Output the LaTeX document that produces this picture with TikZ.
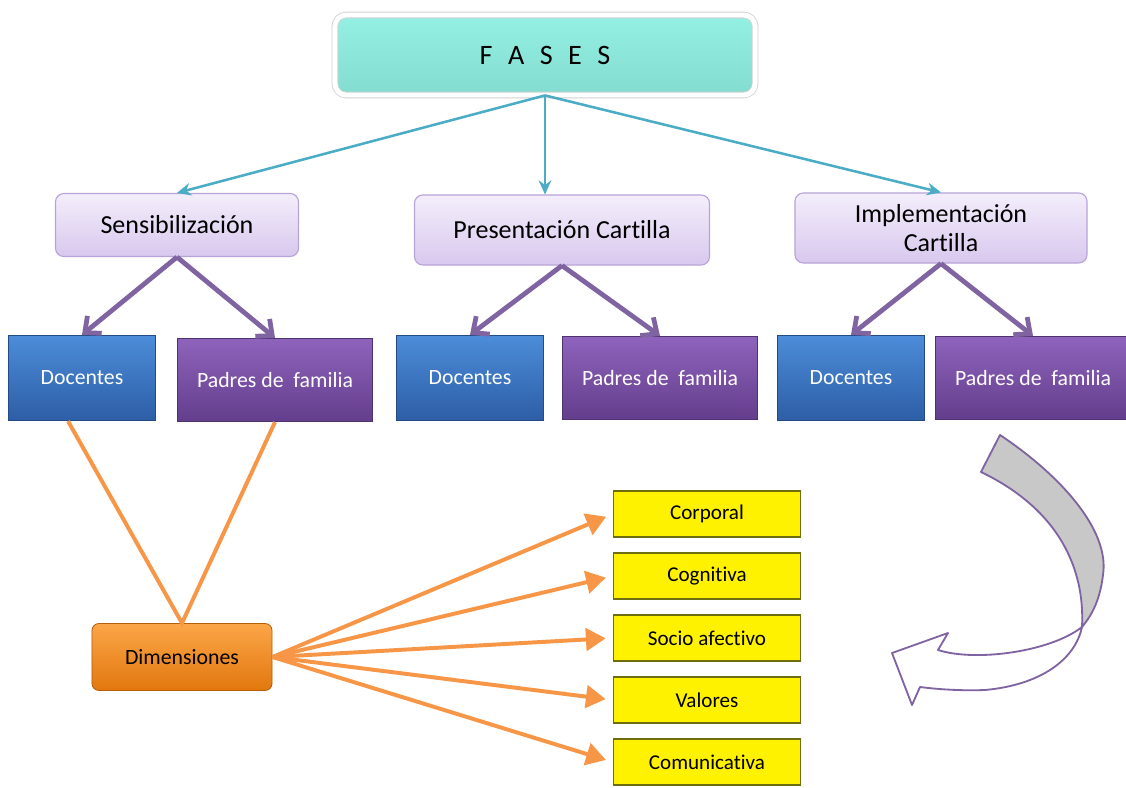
\documentclass[tikz,border=0pt]{standalone}
\usepackage{fontspec}
\setmainfont{Carlito}[Ligatures=NoCommon,RawFeature=-liga]
\usetikzlibrary{arrows.meta}

\definecolor{turquesa}{HTML}{95F0E4}
\definecolor{turquesaosc}{HTML}{82DCD0}
\definecolor{flechaazul}{HTML}{4BACC6}
\definecolor{lilaclaro}{HTML}{F4EEFB}
\definecolor{lilaosc}{HTML}{D8C8EE}
\definecolor{lilaborde}{HTML}{B8A3D8}
\definecolor{morado}{HTML}{8064A2}
\definecolor{azulclaro}{HTML}{4C8CD9}
\definecolor{azulosc}{HTML}{2D5EA6}
\definecolor{moradoclaro}{HTML}{8E63BC}
\definecolor{moradoosc}{HTML}{633E8C}
\definecolor{naranja}{HTML}{F79646}
\definecolor{naranjaclaro}{HTML}{FBA648}
\definecolor{naranjaosc}{HTML}{E2770E}
\definecolor{amarilloborde}{HTML}{6E6E10}
\definecolor{gris}{HTML}{C8C8C8}

\begin{document}
\begin{tikzpicture}[x=0.025cm,y=-0.025cm,
    fase/.style={rectangle,rounded corners=6pt,align=center,draw=lilaborde,line width=0.8pt,
        top color=lilaclaro,bottom color=lilaosc,font=\fontsize{18.5}{21}\selectfont},
    docente/.style={rectangle,draw=azulosc!80!black,line width=0.8pt,top color=azulclaro,bottom color=azulosc,
        text=white,minimum width=3.675cm,minimum height=2.125cm,font=\fontsize{15.5}{18}\selectfont},
    padre/.style={rectangle,draw=moradoosc!80!black,line width=0.8pt,top color=moradoclaro,bottom color=moradoosc,
        text=white,minimum width=4.875cm,minimum height=2.075cm,font=\fontsize{15.5}{18}\selectfont},
    dimension/.style={rectangle,fill=yellow,draw=amarilloborde,line width=1.2pt,
        minimum width=4.675cm,minimum height=1.15cm,font=\fontsize{15}{18}\selectfont},
    azul/.style={-{Stealth[length=10pt,width=9pt,open]},draw=flechaazul,line width=1.8pt},
    lila/.style={-{Straight Barb[length=9pt,width=16pt]},draw=morado,line width=3.4pt},
    naranjo/.style={draw=naranja,line width=2.8pt},
    punta/.style={naranjo,-{Triangle[length=14pt,width=16pt]},shorten >=5pt}]
    \useasboundingbox[fill=white] (0,0) rectangle (1126,788);
    % nodi
    \node[rectangle,rounded corners=8pt,draw=black!18,double=white,double distance=3.5pt,line width=0.6pt,
        top color=turquesa,bottom color=turquesaosc,minimum width=10.5cm,minimum height=2cm,
        font=\fontsize{20}{24}\selectfont] (fases) at (545,55) {F\hspace{0.55em}A\hspace{0.55em}S\hspace{0.55em}E\hspace{0.55em}S};
    \node[fase,minimum width=6.075cm,minimum height=1.575cm] (sens) at (177,225) {Sensibilización};
    \node[fase,minimum width=7.375cm,minimum height=1.75cm] (pres) at (562,230) {Presentación Cartilla};
    \node[fase,minimum width=7.3cm,minimum height=1.75cm] (impl) at (941,228) {Implementación\\Cartilla};
    \node[docente] (doc1) at (82,378)  {Docentes};
    \node[padre]   (pad1) at (275,380) {Padres de\ \ familia};
    \node[docente] (doc2) at (470,378) {Docentes};
    \node[padre]   (pad2) at (660,378) {Padres de\ \ familia};
    \node[docente] (doc3) at (851,378) {Docentes};
    \node[padre]   (pad3) at (1033,378) {Padres de\ \ familia};
    \node[rectangle,rounded corners=5pt,draw=naranjaosc!80!black,line width=0.6pt,top color=naranjaclaro,
        bottom color=naranjaosc,minimum width=4.5cm,minimum height=1.675cm,
        font=\fontsize{15.5}{18}\selectfont] (dim) at (182,657) {Dimensiones};
    \node[dimension] (corp) at (707,514) {Corporal};
    \node[dimension] (cogn) at (707,576) {Cognitiva};
    \node[dimension] (soci) at (707,638) {Socio afectivo};
    \node[dimension] (valo) at (707,700) {Valores};
    \node[dimension] (comu) at (707,762) {Comunicativa};
    % archi
    \draw[azul] (fases.south) -- (sens.north);
    \draw[azul] (fases.south) -- (fases.south |- pres.north);
    \draw[azul] (fases.south) -- (impl.north);
    \foreach \f/\d/\p in {sens/doc1/pad1,pres/doc2/pad2,impl/doc3/pad3}{
        \draw[lila] (\f.south) -- (\d.north);
        \draw[lila] (\f.south) -- (\p.north);
    }
    \draw[naranjo] ([xshift=-0.35cm]doc1.south) -- (dim.north) -- (pad1.south);
    \foreach \y in {corp,cogn,soci,valo,comu}
        \draw[punta] (dim.east) -- (\y.west);
    % flecha curva
    \draw[morado,line width=1.3pt,fill=gris,line join=round]
        (1000,435) .. controls (1060,475) and (1110,530) .. (1103,575)
        .. controls (1100,600) and (1092,615) .. (1082,627)
        .. controls (1085,570) and (1060,510) .. (981,472) -- cycle;
    \draw[morado,line width=1.3pt,fill=white,line join=round]
        (1082,627) .. controls (1075,660) and (1040,685) .. (985,690)
        .. controls (960,691) and (935,689) .. (920,687)
        -- (912,705) -- (892,653) -- (948,633) -- (938,650)
        .. controls (975,662) and (1050,652) .. (1082,627) -- cycle;
\end{tikzpicture}
\end{document}
